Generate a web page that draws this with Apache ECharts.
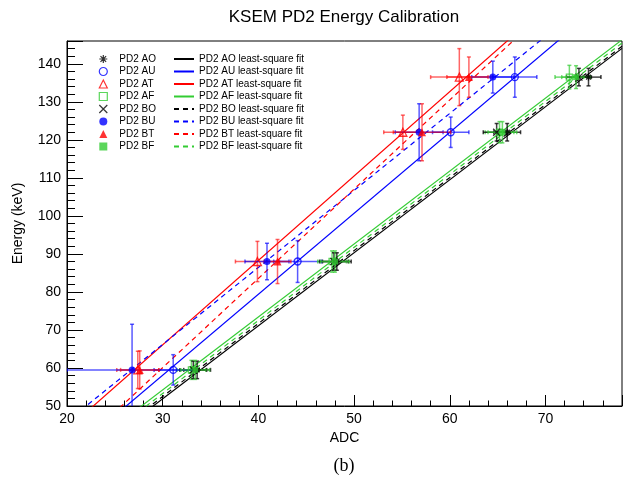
<!DOCTYPE html>
<html><head><meta charset="utf-8">
<script src="https://cdn.jsdelivr.net/npm/echarts@6/dist/echarts.min.js"></script>
<style>html,body{margin:0;padding:0;background:#fff}#c{width:627px;height:483px}</style>
</head><body><div id="c"></div>
<script>
// ---------- data ----------
const energies = [59.5, 88.0, 122.0, 136.5];           // keV of the calibration lines
const names = ['PD2 AO','PD2 AU','PD2 AT','PD2 AF','PD2 BO','PD2 BU','PD2 BT','PD2 BF'];

const adcAO = [33.6, 48.2, 66.0, 74.5];
const adcAU = [31.1, 44.1, 60.1, 66.8];
const adcAT = [27.4, 39.9, 55.1, 61.0];
const adcAF = [33.0, 47.7, 65.2, 72.5];
const adcBO = [33.2, 47.9, 64.9, 73.5];
const adcBU = [26.8, 40.9, 56.8, 64.5];
const adcBT = [27.6, 42.0, 57.1, 62.0];
const adcBF = [33.4, 48.0, 65.5, 73.2];

const adcErrAO = [1.4, 1.5, 1.4, 1.3];
const adcErrAU = [2.0, 2.5, 1.9, 2.3];
const adcErrAT = [2.2, 2.3, 2.0, 3.0];
const adcErrAF = [1.5, 1.5, 1.5, 1.5];
const adcErrBO = [1.4, 1.5, 1.4, 1.3];
const adcErrBU = [6.8, 2.3, 2.5, 2.2];
const adcErrBT = [2.0, 1.4, 3.0, 2.3];
const adcErrBF = [1.5, 1.5, 1.5, 1.5];

const keVErrAO = [2.3, 2.3, 2.3, 2.3];
const keVErrAU = [4.0, 5.5, 4.0, 5.3];
const keVErrAT = [4.9, 5.3, 4.5, 7.5];
const keVErrAF = [2.5, 2.8, 2.8, 3.1];
const keVErrBO = [2.3, 2.3, 2.3, 2.3];
const keVErrBU = [12.0, 4.8, 7.5, 4.2];
const keVErrBT = [5.0, 5.8, 7.5, 5.3];
const keVErrBF = [2.5, 2.8, 2.8, 3.0];

// least-square fit lines: keV = slope * ADC + intercept
const fitSlope     = [1.920, 2.129, 2.2197, 1.918, 1.919, 2.025, 2.347, 1.920];
const fitIntercept = [-5.70, -5.77, -0.50, -3.30, -5.07, 5.45, -10.32, -4.30];

const xTicks = [20, 30, 40, 50, 60, 70];
const yTicks = [50, 60, 70, 80, 90, 100, 110, 120, 130, 140];
const xRange = [20, 78];
const yRange = [50, 146];

// ---------- styling ----------
const adc = [adcAO, adcAU, adcAT, adcAF, adcBO, adcBU, adcBT, adcBF];
const adcErr = [adcErrAO, adcErrAU, adcErrAT, adcErrAF, adcErrBO, adcErrBU, adcErrBT, adcErrBF];
const keVErr = [keVErrAO, keVErrAU, keVErrAT, keVErrAF, keVErrBO, keVErrBU, keVErrBT, keVErrBF];
const G = '#33cc33';
const colors = ['#000000', '#0000ff', '#ff0000', G, '#000000', '#0000ff', '#ff0000', G];
const errColors = ['rgba(0,0,0,0.75)','rgba(0,0,255,0.65)','rgba(255,0,0,0.6)','rgba(51,204,51,0.7)',
                   'rgba(0,0,0,0.75)','rgba(0,0,255,0.65)','rgba(255,0,0,0.6)','rgba(51,204,51,0.7)'];
const STAR = 'path://M0,5L10,5M5,0L5,10M1.5,1.5L8.5,8.5M8.5,1.5L1.5,8.5';
const XMARK = 'path://M1,1L9,9M9,1L1,9';
const CIRC = 'circle', TRI = 'triangle', SQ = 'rect';
const symbols = [STAR, CIRC, TRI, SQ, XMARK, CIRC, TRI, SQ];
const hollow = [true, true, true, true, true, false, false, false];
const sizes = [7, 7, 8, 6, 7, 7, 8, 6];
const FONT = 'Liberation Sans';

const series = [];
for (let i = 0; i < names.length; i++) {
  const pts = adc[i].map((x, k) => [x, energies[k], adcErr[i][k], keVErr[i][k]]);
  series.push({
    type: 'custom', name: names[i] + ' errors', clip: true, z: 3, silent: true,
    encode: {x: 0, y: 1},
    data: pts,
    renderItem: (params, api) => {
      const x = api.value(0), y = api.value(1), ex = api.value(2), ey = api.value(3);
      const c = api.coord([x, y]);
      const l = api.coord([x - ex, y]), r = api.coord([x + ex, y]);
      const t = api.coord([x, y + ey]), b = api.coord([x, y - ey]);
      const st = {stroke: errColors[i], lineWidth: 1.5, fill: null};
      const cap = 2;
      const ln = (x1, y1, x2, y2) => ({type: 'line', shape: {x1, y1, x2, y2}, style: st});
      return {type: 'group', children: [
        ln(l[0], c[1], r[0], c[1]), ln(c[0], t[1], c[0], b[1]),
        ln(l[0], c[1] - cap, l[0], c[1] + cap), ln(r[0], c[1] - cap, r[0], c[1] + cap),
        ln(c[0] - cap, t[1], c[0] + cap, t[1]), ln(c[0] - cap, b[1], c[0] + cap, b[1])
      ]};
    }
  });
  series.push({
    type: 'scatter', name: names[i], z: 4,
    symbol: symbols[i], symbolSize: sizes[i],
    itemStyle: hollow[i]
      ? {color: 'rgba(0,0,0,0)', borderColor: colors[i], borderWidth: 1.3}
      : {color: colors[i], borderWidth: 0},
    data: adc[i].map((x, k) => [x, energies[k]])
  });
  series.push({
    type: 'line', name: names[i] + ' least-square fit', z: 2, silent: true,
    showSymbol: false, symbol: 'none', clip: true,
    lineStyle: {color: colors[i], width: 1.2, type: i < 4 ? 'solid' : [5, 4]},
    itemStyle: {color: colors[i]},
    data: xRange.map(x => [x, fitSlope[i] * x + fitIntercept[i]])
  });
}

const chart = echarts.init(document.getElementById('c'), null, {renderer: 'canvas'});
chart.setOption({
  animation: false,
  backgroundColor: '#fff',
  grid: {left: 67, right: 5, top: 41, bottom: 77, show: true, borderColor: '#000', borderWidth: 1, backgroundColor: 'rgba(0,0,0,0)'},
  xAxis: {
    type: 'value', min: xRange[0], max: xRange[1], interval: 10,
    name: 'ADC', nameLocation: 'middle', nameGap: 24,
    nameTextStyle: {fontFamily: FONT, fontSize: 14, color: '#000'},
    axisLine: {onZero: false, lineStyle: {color: '#000', width: 1}},
    axisTick: {inside: true, length: 11, lineStyle: {color: '#000'}},
    minorTick: {show: true, splitNumber: 5, length: 5.5, lineStyle: {color: '#000'}},
    splitLine: {show: false},
    axisLabel: {fontFamily: FONT, fontSize: 14, color: '#000', margin: 6,
      formatter: v => xTicks.includes(v) ? String(v) : ''}
  },
  yAxis: {
    type: 'value', min: yRange[0], max: yRange[1], interval: 10,
    name: 'Energy (keV)', nameLocation: 'middle', nameGap: 42,
    nameTextStyle: {fontFamily: FONT, fontSize: 14, color: '#000'},
    axisLine: {onZero: false, lineStyle: {color: '#000', width: 1}},
    axisTick: {inside: true, length: 16, lineStyle: {color: '#000'}},
    minorTick: {show: true, splitNumber: 5, length: 8, lineStyle: {color: '#000'}},
    splitLine: {show: false},
    axisLabel: {fontFamily: FONT, fontSize: 14, color: '#000', margin: 6,
      formatter: v => yTicks.includes(v) ? String(v) : ''}
  },
  legend: [
    {
      data: names, orient: 'vertical', left: 98.7, top: 52.75, padding: 0,
      itemWidth: 8, itemHeight: 8, itemGap: 0, selectedMode: false,
      itemStyle: {borderWidth: 1.2},
      textStyle: {fontFamily: FONT, fontSize: 10, color: '#000', lineHeight: 12.5, padding: [0, 0, 0, 7]}
    },
    {
      data: names.map(n => n + ' least-square fit'), orient: 'vertical', left: 173, top: 52.75, padding: 0,
      itemWidth: 20, itemHeight: 8, itemGap: 0, selectedMode: false,
      itemStyle: {color: 'rgba(0,0,0,0)', borderWidth: 0, opacity: 0},
      textStyle: {fontFamily: FONT, fontSize: 10, color: '#000', lineHeight: 12.5}
    }
  ],
  graphic: [
    {type: 'text', x: 344, y: 17, style: {text: 'KSEM PD2 Energy Calibration', font: '17px "Liberation Sans"', fill: '#000', textAlign: 'center', textVerticalAlign: 'middle'}},
    {type: 'text', x: 344, y: 466, style: {text: '(b)', font: '18px "Liberation Serif"', fill: '#000', textAlign: 'center', textVerticalAlign: 'middle'}}
  ],
  series: series
});
</script>
</body></html>
